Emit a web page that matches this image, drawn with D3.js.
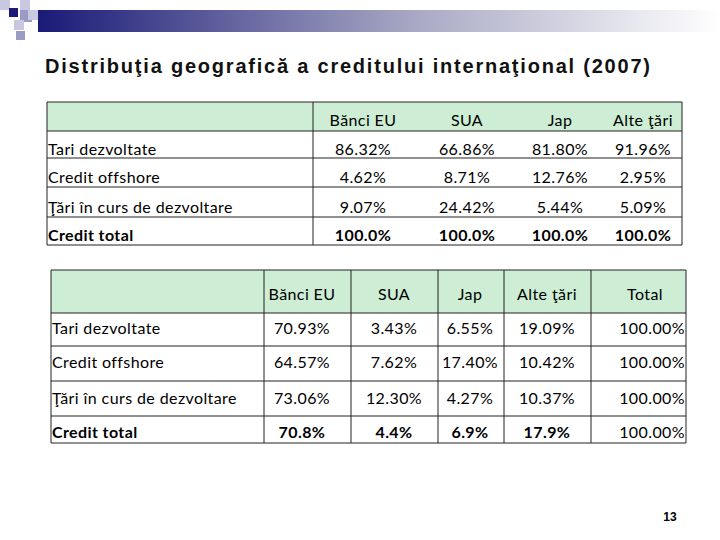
<!DOCTYPE html>
<html><head><meta charset="utf-8">
<script src="https://cdn.jsdelivr.net/npm/d3@7"></script>
<style>body{margin:0;background:#fff}</style></head>
<body><svg id="s" width="720" height="540"></svg>
<script>
const title = "Distribuţia geografică a creditului internaţional (2007)";
const rows = ["Tari dezvoltate","Credit offshore","Ţări în curs de dezvoltare","Credit total"];
const cols1 = ["Bănci EU","SUA","Jap","Alte ţări"];
const vals1 = [["86.32%","66.86%","81.80%","91.96%"],["4.62%","8.71%","12.76%","2.95%"],["9.07%","24.42%","5.44%","5.09%"],["100.0%","100.0%","100.0%","100.0%"]];
const cols2 = ["Bănci EU","SUA","Jap","Alte ţări","Total"];
const vals2 = [["70.93%","3.43%","6.55%","19.09%","100.00%"],["64.57%","7.62%","17.40%","10.42%","100.00%"],["73.06%","12.30%","4.27%","10.37%","100.00%"],["70.8%","4.4%","6.9%","17.9%","100.00%"]];

const svg = d3.select("#s");
const defs = svg.append("defs");
const g = defs.append("linearGradient").attr("id","gb");
g.append("stop").attr("offset","0").attr("stop-color","#1a1a78");
g.append("stop").attr("offset","0.55").attr("stop-color","#a8a8c4");
g.append("stop").attr("offset","1").attr("stop-color","#ffffff");
svg.append("rect").attr("x",38).attr("y",10).attr("width",682).attr("height",22).attr("fill","url(#gb)");
[[0,0,10,"#c8c8e0"],[9,8,9,"#1a1a78"],[20,0,10,"#c8c8e0"],[20,10,12,"#9a9ac4"],[28,10,10,"#c8c8e0"],[14,20,10,"#c8c8e0"],[16,31,9,"#9a9ac4"]]
  .forEach(d=>svg.append("rect").attr("x",d[0]).attr("y",d[1]).attr("width",d[2]).attr("height",d[2]).attr("fill",d[3]));
svg.append("text").attr("x",45).attr("y",73).attr("font-family","Liberation Sans, Arial").attr("font-weight","bold").attr("font-size",20).attr("fill","#111")
  .attr("textLength",605).attr("lengthAdjust","spacing").text(title);
svg.append("text").attr("x",670).attr("y",521).attr("text-anchor","middle").attr("font-family","Liberation Sans, Arial").attr("font-weight","bold").attr("font-size",12).text("13");

const ff="Lato, Open Sans, sans-serif";
function table(cfg){
  const {x0,x1,edges,yh,ys,cols,vals,textY,headY,centers,inner} = cfg;
  svg.append("rect").attr("x",x0).attr("y",yh[0]).attr("width",x1-x0).attr("height",yh[1]-yh[0]).attr("fill","#cdeed4");
  const t=(x,y,s,anchor,bold)=>svg.append("text").attr("x",x).attr("y",y).attr("text-anchor",anchor).attr("font-family",ff).attr("font-size",16).attr("letter-spacing",0.4).attr("font-weight",bold?"bold":null).text(s);
  cols.forEach((c,i)=>t(centers[i],headY,c,"middle",false));
  rows.forEach((r,j)=>{
    const bold = j===3;
    t(x0+1,textY[j],r,"start",bold);
    vals[j].forEach((v,i)=>{
      if (cfg.lastRight && i===cols.length-1) t(x1-1,textY[j],v,"end",false);
      else t(centers[i],textY[j],v,"middle",bold);
    });
  });
  [yh[0],yh[1]].concat(ys).forEach(yy=>svg.append("line").attr("x1",x0).attr("x2",x1).attr("y1",yy).attr("y2",yy).attr("stroke","#222"));
  [x0,x1].concat(inner).forEach(xx=>svg.append("line").attr("x1",xx).attr("x2",xx).attr("y1",yh[0]).attr("y2",ys[ys.length-1]).attr("stroke","#222"));
}
table({x0:47,x1:682,inner:[313],yh:[102,131],ys:[158,187,217,245],centers:[363,467,560,643],cols:cols1,vals:vals1,headY:126,textY:[155,183,213,241]});
table({x0:51,x1:686,inner:[264,351,438,504,591],yh:[270,313],ys:[346,381,416,443],centers:[302,394,470,547,645],cols:cols2,vals:vals2,headY:300,textY:[334,368,404,438],lastRight:true});
</script></body></html>
